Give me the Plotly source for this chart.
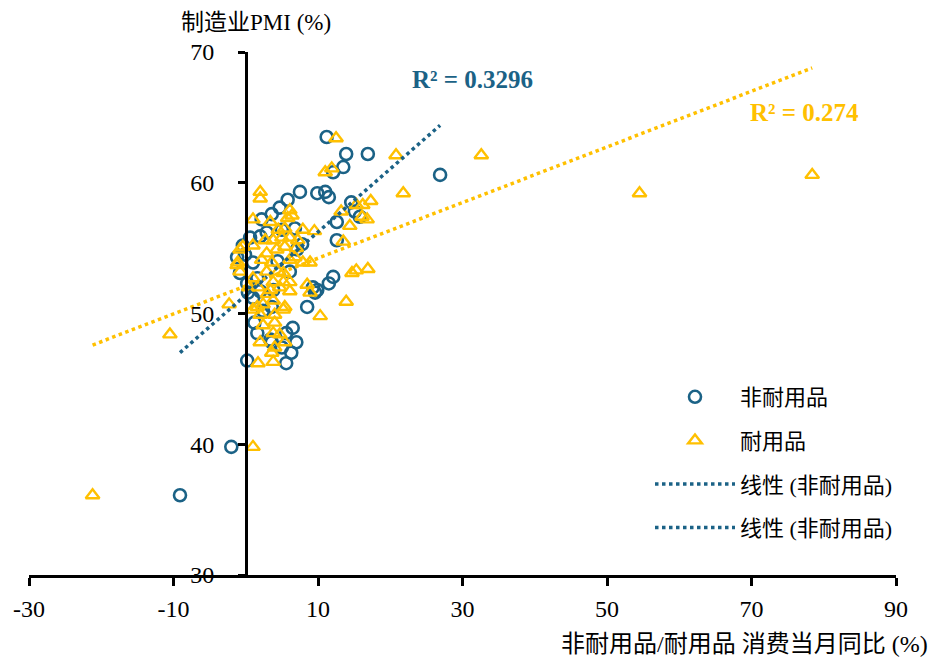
import plotly.graph_objects as go
import numpy as np

# ---- data ----
nondurable_x = [-2.0, -9.1, 0.2, 11.2, 13.9, 16.9, 13.5, 12.1, 26.9, 7.5, 9.9, 11.0, 11.5, 5.8, 4.7,
                3.6, 2.2, 14.6, 15.1, 15.8, 12.6, 12.6, 12.1, 11.5, 9.3, 8.5, 6.8, 5.0, 2.9, 2.0,
                0.6, -0.4, -0.1, 1.0, -1.2, -0.8, 0.2, 1.6, 1.0, 0.3, 7.1, 6.1, 9.9, 3.6, 3.8,
                2.0, 1.6, 3.6, 5.6, 7.0, 6.3, 5.6, 5.0, 6.5, 3.4, 9.6, 2.4, 4.4, 7.8, 1.2]
nondurable_y = [39.8, 36.1, 46.4, 63.5, 62.2, 62.2, 61.2, 60.8, 60.6, 59.3, 59.2, 59.3, 58.9, 58.7, 58.1,
                57.6, 57.2, 58.5, 57.8, 57.4, 57.0, 55.6, 52.8, 52.3, 52.0, 50.5, 56.5, 56.4, 56.2, 55.9,
                55.8, 55.2, 54.5, 53.9, 54.3, 53.1, 52.3, 52.7, 51.2, 51.6, 54.9, 53.2, 51.8, 50.5, 51.8,
                51.7, 48.5, 47.8, 48.5, 47.8, 47.0, 46.2, 47.4, 48.9, 48.0, 51.6, 50.2, 54.0, 55.3, 49.3]

durable_x = [-21.2, 1.0, -10.5, -2.3, 12.5, 20.8, 32.6, 54.5, 78.4, 21.8, 11.9, 11.0, 13.2, 14.4, 15.3,
             16.2, 17.3, 16.1, 16.8, 13.5, 14.7, 15.3, 16.9, 13.9, 10.3, 8.9, 7.9, 6.1, 5.2, 6.1,
             8.5, 8.9, 5.4, 6.1, 6.4, 7.9, 7.2, 5.4, 2.0, 2.0, 1.0, 3.4, 5.8, 5.4, 4.5,
             2.7, 3.8, 5.0, 6.1, 1.0, -0.4, -0.8, 2.9, 4.3, 2.2, 3.6, 6.8, -1.2, -0.8, 1.0,
             2.9, 4.5, 1.7, 3.8, 5.2, 3.4, 4.7, 6.1, 1.0, 2.4, 3.8, 5.2, 2.0, 4.0, 2.4,
             4.0, 3.8, 4.7, 2.0, 5.4, 4.0, 3.6, 3.8, 1.7, -1.1, 1.6, 9.5, 7.0, 3.0, 0.4]
durable_y = [36.1, 39.8, 48.4, 50.7, 63.4, 62.1, 62.1, 59.2, 60.6, 59.2, 61.1, 60.8, 57.8, 56.7, 58.3,
             58.3, 58.6, 57.4, 57.2, 55.5, 53.1, 53.3, 53.4, 50.9, 49.8, 53.9, 53.9, 54.1, 53.1, 52.4,
             52.2, 51.6, 50.5, 57.9, 57.5, 56.4, 55.6, 55.1, 59.3, 58.8, 57.2, 57.0, 57.3, 56.5, 56.4,
             55.6, 55.6, 55.8, 55.8, 55.2, 55.1, 54.9, 54.6, 54.9, 54.1, 53.9, 54.3, 53.7, 53.2, 52.7,
             53.2, 53.2, 52.0, 52.4, 52.4, 51.8, 52.0, 51.7, 50.3, 50.7, 51.0, 50.3, 49.9, 49.9, 49.1,
             49.3, 48.5, 48.4, 47.8, 47.8, 47.4, 47.0, 46.3, 46.2, 53.9, 50.5, 56.3, 55.0, 51.5, 52.0]

# linear trendlines (slope, intercept) and R² as shown in the reference
nondurable_trend = (0.483, 51.4)
durable_trend = (0.2128, 52.1)
nondurable_r2 = "R² = 0.3296"
durable_r2 = "R² = 0.274"

x_ticks = [-30, -10, 10, 30, 50, 70, 90]
x_tick_labels = ["-30", "-10", "10", "30", "50", "70", "90"]
y_ticks = [30, 40, 50, 60, 70]

BLUE = "#1B6286"
GOLD = "#FFC000"
SERIF = "Liberation Serif, Times New Roman, Noto Sans CJK SC, serif"

# layout geometry (figure px); page body has an 8px offset
L, R, T, B = 21, 50, 44, 92
PW, PH = 938 - L - R, 659 - T - B


def px_to_paper(wx, wy):
    fx, fy = wx - 8, wy - 8
    return (fx - L) / PW, (659 - B - fy) / PH


fig = go.Figure()

fig.add_trace(go.Scatter(
    x=nondurable_x, y=nondurable_y, mode="markers", name="非耐用品",
    marker=dict(symbol="circle-open", size=12, color=BLUE, line=dict(width=2.6, color=BLUE)),
    legendgroup="a"))
fig.add_trace(go.Scatter(
    x=durable_x, y=durable_y, mode="markers", name="耐用品",
    marker=dict(symbol="triangle-up-open", size=12, color=GOLD, line=dict(width=2.4, color=GOLD)),
    legendgroup="b"))

bx = np.array([min(nondurable_x), max(nondurable_x)])
fig.add_trace(go.Scatter(
    x=bx, y=nondurable_trend[0] * bx + nondurable_trend[1], mode="lines", name="线性 (非耐用品)",
    line=dict(color=BLUE, width=3.5, dash="dot"), legendgroup="c"))
dx = np.array([min(durable_x), max(durable_x)])
fig.add_trace(go.Scatter(
    x=dx, y=durable_trend[0] * dx + durable_trend[1], mode="lines", name="线性 (耐用品)",
    line=dict(color=GOLD, width=3.5, dash="dot"), showlegend=False))
# the reference legend repeats the blue trendline entry
fig.add_trace(go.Scatter(
    x=[None], y=[None], mode="lines", name="线性 (非耐用品)",
    line=dict(color=BLUE, width=3.5, dash="dot"), legendgroup="d"))

ax, ay = px_to_paper(473, 80)
fig.add_annotation(x=ax, y=ay, xref="paper", yref="paper", text="<b>" + nondurable_r2 + "</b>",
                   showarrow=False, xanchor="center", yanchor="middle",
                   font=dict(family=SERIF, size=25, color=BLUE))
ax, ay = px_to_paper(804, 113)
fig.add_annotation(x=ax, y=ay, xref="paper", yref="paper", text="<b>" + durable_r2 + "</b>",
                   showarrow=False, xanchor="center", yanchor="middle",
                   font=dict(family=SERIF, size=25, color=GOLD))

ax, ay = px_to_paper(256, 22)
fig.add_annotation(x=ax, y=ay, xref="paper", yref="paper", text="制造业PMI (%)",
                   showarrow=False, font=dict(family=SERIF, size=23, color="#000"),
                   xanchor="center", yanchor="middle")
ax, ay = px_to_paper(930, 644)
fig.add_annotation(x=ax, y=ay, xref="paper", yref="paper",
                   text="非耐用品/耐用品 消费当月同比 (%)",
                   showarrow=False, font=dict(family=SERIF, size=24, color="#000"),
                   xanchor="right", yanchor="middle")

lx, ly = px_to_paper(650, 376)
fig.update_layout(
    width=938, height=659,
    margin=dict(l=L, r=R, t=T, b=B),
    paper_bgcolor="white", plot_bgcolor="white",
    showlegend=True,
    legend=dict(x=lx, y=ly, xanchor="left", yanchor="top",
                font=dict(family=SERIF, size=22, color="#000"),
                traceorder="grouped", tracegroupgap=12, itemwidth=80,
                bgcolor="rgba(0,0,0,0)"),
    xaxis=dict(range=[-30, 90], tickvals=x_ticks, ticktext=x_tick_labels,
               showgrid=False, zeroline=False, automargin=False,
               showline=True, linecolor="#000", linewidth=2.5,
               ticks="outside", ticklen=8, tickwidth=2.5, tickcolor="#000",
               ticklabelstandoff=2,
               tickfont=dict(family=SERIF, size=24, color="#000")),
    yaxis=dict(range=[30, 70], tickvals=y_ticks, showgrid=False, zeroline=False,
               automargin=False,
               showline=True, linecolor="#000", linewidth=2.5,
               ticks="outside", ticklen=7, tickwidth=2.5, tickcolor="#000",
               anchor="free", position=0.25, ticklabelstandoff=19,
               tickfont=dict(family=SERIF, size=24, color="#000")),
)

fig.write_html("out.html")
